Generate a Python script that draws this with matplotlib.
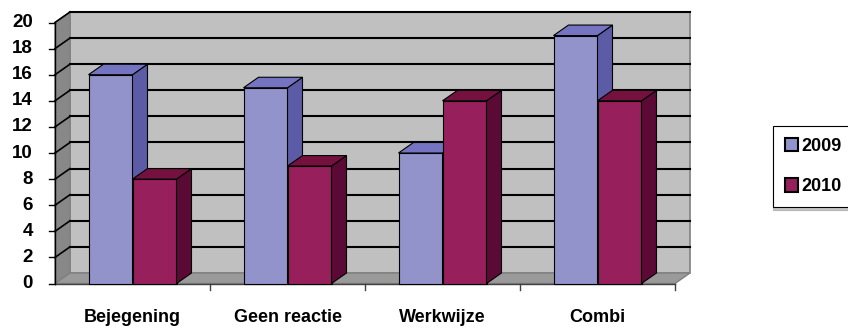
import matplotlib
matplotlib.use("Agg")
import matplotlib.pyplot as plt
from matplotlib.patches import Polygon, Rectangle, Patch

plt.rcParams["font.family"] = ["Liberation Sans", "DejaVu Sans"]
plt.rcParams["font.weight"] = "bold"

categories = ["Bejegening", "Geen reactie", "Werkwijze", "Combi"]
series_names = ["2009", "2010"]
values_2009 = [16, 15, 10, 19]
values_2010 = [8, 9, 14, 14]
y_ticks = list(range(0, 21, 2))

front_colors = ["#9393cb", "#971f5c"]
side_colors = ["#5b5ba6", "#5a0a34"]
top_colors = ["#7474c2", "#74113f"]

W, H = 848, 331
fig = plt.figure(figsize=(W / 100, H / 100), dpi=100)
ax = fig.add_axes([0, 0, 1, 1])

# pixel geometry of the plot box
px_x = 155.0        # pixels per category
px_y = 13.05        # pixels per unit value
x0_px, y0_px = 55, 283.5
ax.set_xlim(-0.5 - x0_px / px_x, -0.5 + (W - x0_px) / px_x)
ax.set_ylim(-(H - y0_px) / px_y, y0_px / px_y)
ax.axis("off")

DX = 15 / px_x
DY = 10.5 / px_y
ymax = 20
xl, xr = -0.5, len(categories) - 0.5

# walls and floor
ax.add_patch(Rectangle((xl + DX, DY), xr - xl, ymax, facecolor="#c0c0c0",
                       edgecolor="#808080", lw=1.2, zorder=1))
ax.add_patch(Polygon([(xl, 0), (xl + DX, DY), (xl + DX, ymax + DY), (xl, ymax)],
                     facecolor="#888888", edgecolor="#808080", lw=1, zorder=1))
ax.add_patch(Polygon([(xl, 0), (xr, 0), (xr + DX, DY), (xl + DX, DY)],
                     facecolor="#9a9a9a", edgecolor="#808080", lw=1, zorder=1))

# gridlines on back wall + side wall
for v in y_ticks[1:]:
    ax.plot([xl + DX, xr + DX], [v + DY, v + DY], color="black", lw=1.5, zorder=2)
    ax.plot([xl, xl + DX], [v, v + DY], color="black", lw=1.2, zorder=2)

# axes lines and ticks
tick_dx = 6 / px_x
ax.plot([xl, xl], [0, ymax], color="black", lw=1, zorder=2)
ax.plot([xl, xr], [0, 0], color="#404040", lw=1, zorder=2)
for v in y_ticks:
    ax.plot([xl - tick_dx, xl], [v, v], color="black", lw=1, zorder=2)
    ax.text(xl - 22 / px_x, v, str(v), ha="right", va="center", fontsize=13.5)
for b in range(1, len(categories) + 1):
    ax.plot([xl + b, xl + b], [0, -6 / px_y], color="#404040", lw=1, zorder=2)
for i, cat in enumerate(categories):
    ax.text(i, -34 / px_y, cat, ha="center", va="center", fontsize=13)

# 3d bars
bw = 44 / px_x
gap = (1 - 2 * bw) / 2
z = 3
for i in range(len(categories)):
    for j, vals in enumerate([values_2009, values_2010]):
        h = vals[i]
        x = i - 0.5 + gap + j * bw
        ax.add_patch(Rectangle((x, 0), bw, h, facecolor=front_colors[j],
                               edgecolor="black", lw=0.8, zorder=z))
        ax.add_patch(Polygon([(x + bw, 0), (x + bw + DX, DY), (x + bw + DX, h + DY), (x + bw, h)],
                             facecolor=side_colors[j], edgecolor="black", lw=0.8, zorder=z))
        ax.add_patch(Polygon([(x, h), (x + bw, h), (x + bw + DX, h + DY), (x + DX, h + DY)],
                             facecolor=top_colors[j], edgecolor="black", lw=0.8, zorder=z))
        z += 1

handles = [Patch(facecolor=front_colors[k], edgecolor="black", lw=1.5) for k in range(2)]
leg = ax.legend(handles, series_names, loc="upper left",
                bbox_to_anchor=(773 / W, 1 - 126 / H), bbox_transform=fig.transFigure,
                frameon=True, fancybox=False, edgecolor="black", fontsize=13,
                handlelength=0.75, handleheight=0.75, handletextpad=0.15,
                labelspacing=1.3, borderpad=0.65, borderaxespad=0,
                shadow={"color": "0.55", "ox": 0, "oy": -2})
leg.get_frame().set_linewidth(0.8)

fig.savefig("out.png", dpi=100)
